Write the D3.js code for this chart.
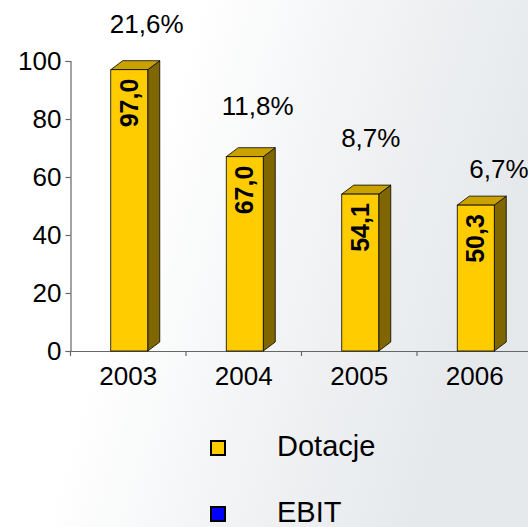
<!DOCTYPE html>
<html>
<head>
<meta charset="utf-8">
<script src="https://cdn.jsdelivr.net/npm/d3@7/dist/d3.min.js"></script>
<style>
  html, body { margin: 0; padding: 0; background: #fff; }
  svg { display: block; font-family: "Liberation Sans", Arial, sans-serif; }
</style>
</head>
<body>
<svg id="chart" width="528" height="527"></svg>
<script>
// ---- data ----
const years = ["2003", "2004", "2005", "2006"];
const dotacje = [97.0, 67.0, 54.1, 50.3];
const ebitMargin = ["21,6%", "11,8%", "8,7%", "6,7%"];
const ebitLabelAt = [109.7, 81.4, 70.3, 59.7];      // label anchor heights (value units)
const ebitLabelShift = [0.16, 0.12, 0.10, 0.21];    // horizontal shift (fraction of band)
const yTicks = [0, 20, 40, 60, 80, 100];
const legendItems = ["Dotacje", "EBIT"];
const legendColors = ["#FFCC00", "#0000FF"];

// ---- layout ----
const svg = d3.select("#chart");
const W = 528, H = 527;

// background texture approximation
const defs = svg.append("defs");
const grad = defs.append("linearGradient").attr("id", "bg").attr("x1", "0").attr("x2", "1").attr("y1", "0").attr("y2", "0.3");
grad.append("stop").attr("offset", "0.35").attr("stop-color", "#ffffff");
grad.append("stop").attr("offset", "0.75").attr("stop-color", "#eef0f2");
grad.append("stop").attr("offset", "1").attr("stop-color", "#e6e9ec");
svg.append("rect").attr("width", W).attr("height", H).attr("fill", "url(#bg)");

const x0 = 70.5, band = 115.5;
const x = d3.scaleBand().domain(years).range([x0, x0 + band * years.length]).paddingInner(0).paddingOuter(0);
const y = d3.scaleLinear().domain([0, 100]).range([351, 61]);

const depthX = 12, depthY = 9, barW = 37;

// axes
const yAxis = svg.append("g").attr("transform", `translate(${x0},0)`)
  .call(d3.axisLeft(y).tickValues(yTicks).tickSize(5).tickPadding(4).tickFormat(d3.format("d")));
yAxis.select(".domain").attr("stroke", "#666").attr("stroke-width", 1.2);
yAxis.selectAll(".tick line").attr("stroke", "#666").attr("stroke-width", 1.2);
yAxis.selectAll(".tick text").attr("font-size", 26).attr("fill", "#000").attr("dy", "0.34em");

const xAxis = svg.append("g").attr("transform", `translate(0,${y(0)})`)
  .call(d3.axisBottom(x).tickSize(0).tickPadding(16));
xAxis.select(".domain").attr("stroke", "#666").attr("stroke-width", 1.2);
xAxis.selectAll(".tick text").attr("font-size", 26).attr("fill", "#000").attr("dy", "0.71em");
// category separator ticks
svg.append("g").selectAll("line").data(years).join("line")
  .attr("x1", d => x(d)).attr("x2", d => x(d))
  .attr("y1", y(0)).attr("y2", y(0) + 5)
  .attr("stroke", "#666").attr("stroke-width", 1.2);

// bars
const bars = svg.append("g").selectAll("g").data(years.map((yr, i) => ({ yr, v: dotacje[i], i }))).join("g");
bars.each(function(d) {
  const g = d3.select(this);
  const cx = x(d.yr) + x.bandwidth() / 2 + 1;
  const l = cx - barW / 2, r = cx + barW / 2;
  const t = y(d.v), b = y(0);
  // side
  g.append("path")
    .attr("d", `M${r},${t} L${r + depthX},${t - depthY} L${r + depthX},${b - depthY} L${r},${b} Z`)
    .attr("fill", "#806600").attr("stroke", "#000").attr("stroke-width", 0.8);
  // top
  g.append("path")
    .attr("d", `M${l},${t} L${l + depthX},${t - depthY} L${r + depthX},${t - depthY} L${r},${t} Z`)
    .attr("fill", "#C9A200").attr("stroke", "#000").attr("stroke-width", 0.8);
  // front
  g.append("rect").attr("x", l).attr("y", t).attr("width", barW).attr("height", b - t)
    .attr("fill", "#FFCC00").attr("stroke", "#000").attr("stroke-width", 0.8);
  // value label
  g.append("text")
    .attr("transform", `translate(${cx + 8.5},${t + 9}) rotate(-90)`)
    .attr("text-anchor", "end")
    .attr("font-size", 25).attr("font-weight", "bold").attr("fill", "#000")
    .text(d3.format(".1f")(d.v).replace(".", ","));
});

// EBIT margin labels
svg.append("g").selectAll("text").data(years).join("text")
  .attr("x", (d, i) => x(d) + x.bandwidth() / 2 + ebitLabelShift[i] * band)
  .attr("y", (d, i) => y(ebitLabelAt[i]))
  .attr("text-anchor", "middle")
  .attr("font-size", 26).attr("fill", "#000")
  .text((d, i) => ebitMargin[i]);

// legend
const leg = svg.append("g").selectAll("g").data(legendItems).join("g")
  .attr("transform", (d, i) => `translate(211,${441 + i * 66})`);
leg.append("rect").attr("width", 14).attr("height", 14)
  .attr("fill", (d, i) => legendColors[i]).attr("stroke", "#000").attr("stroke-width", 2);
leg.append("text").attr("x", 66).attr("y", 15).attr("font-size", 29).attr("fill", "#000").text(d => d);
</script>
</body>
</html>
